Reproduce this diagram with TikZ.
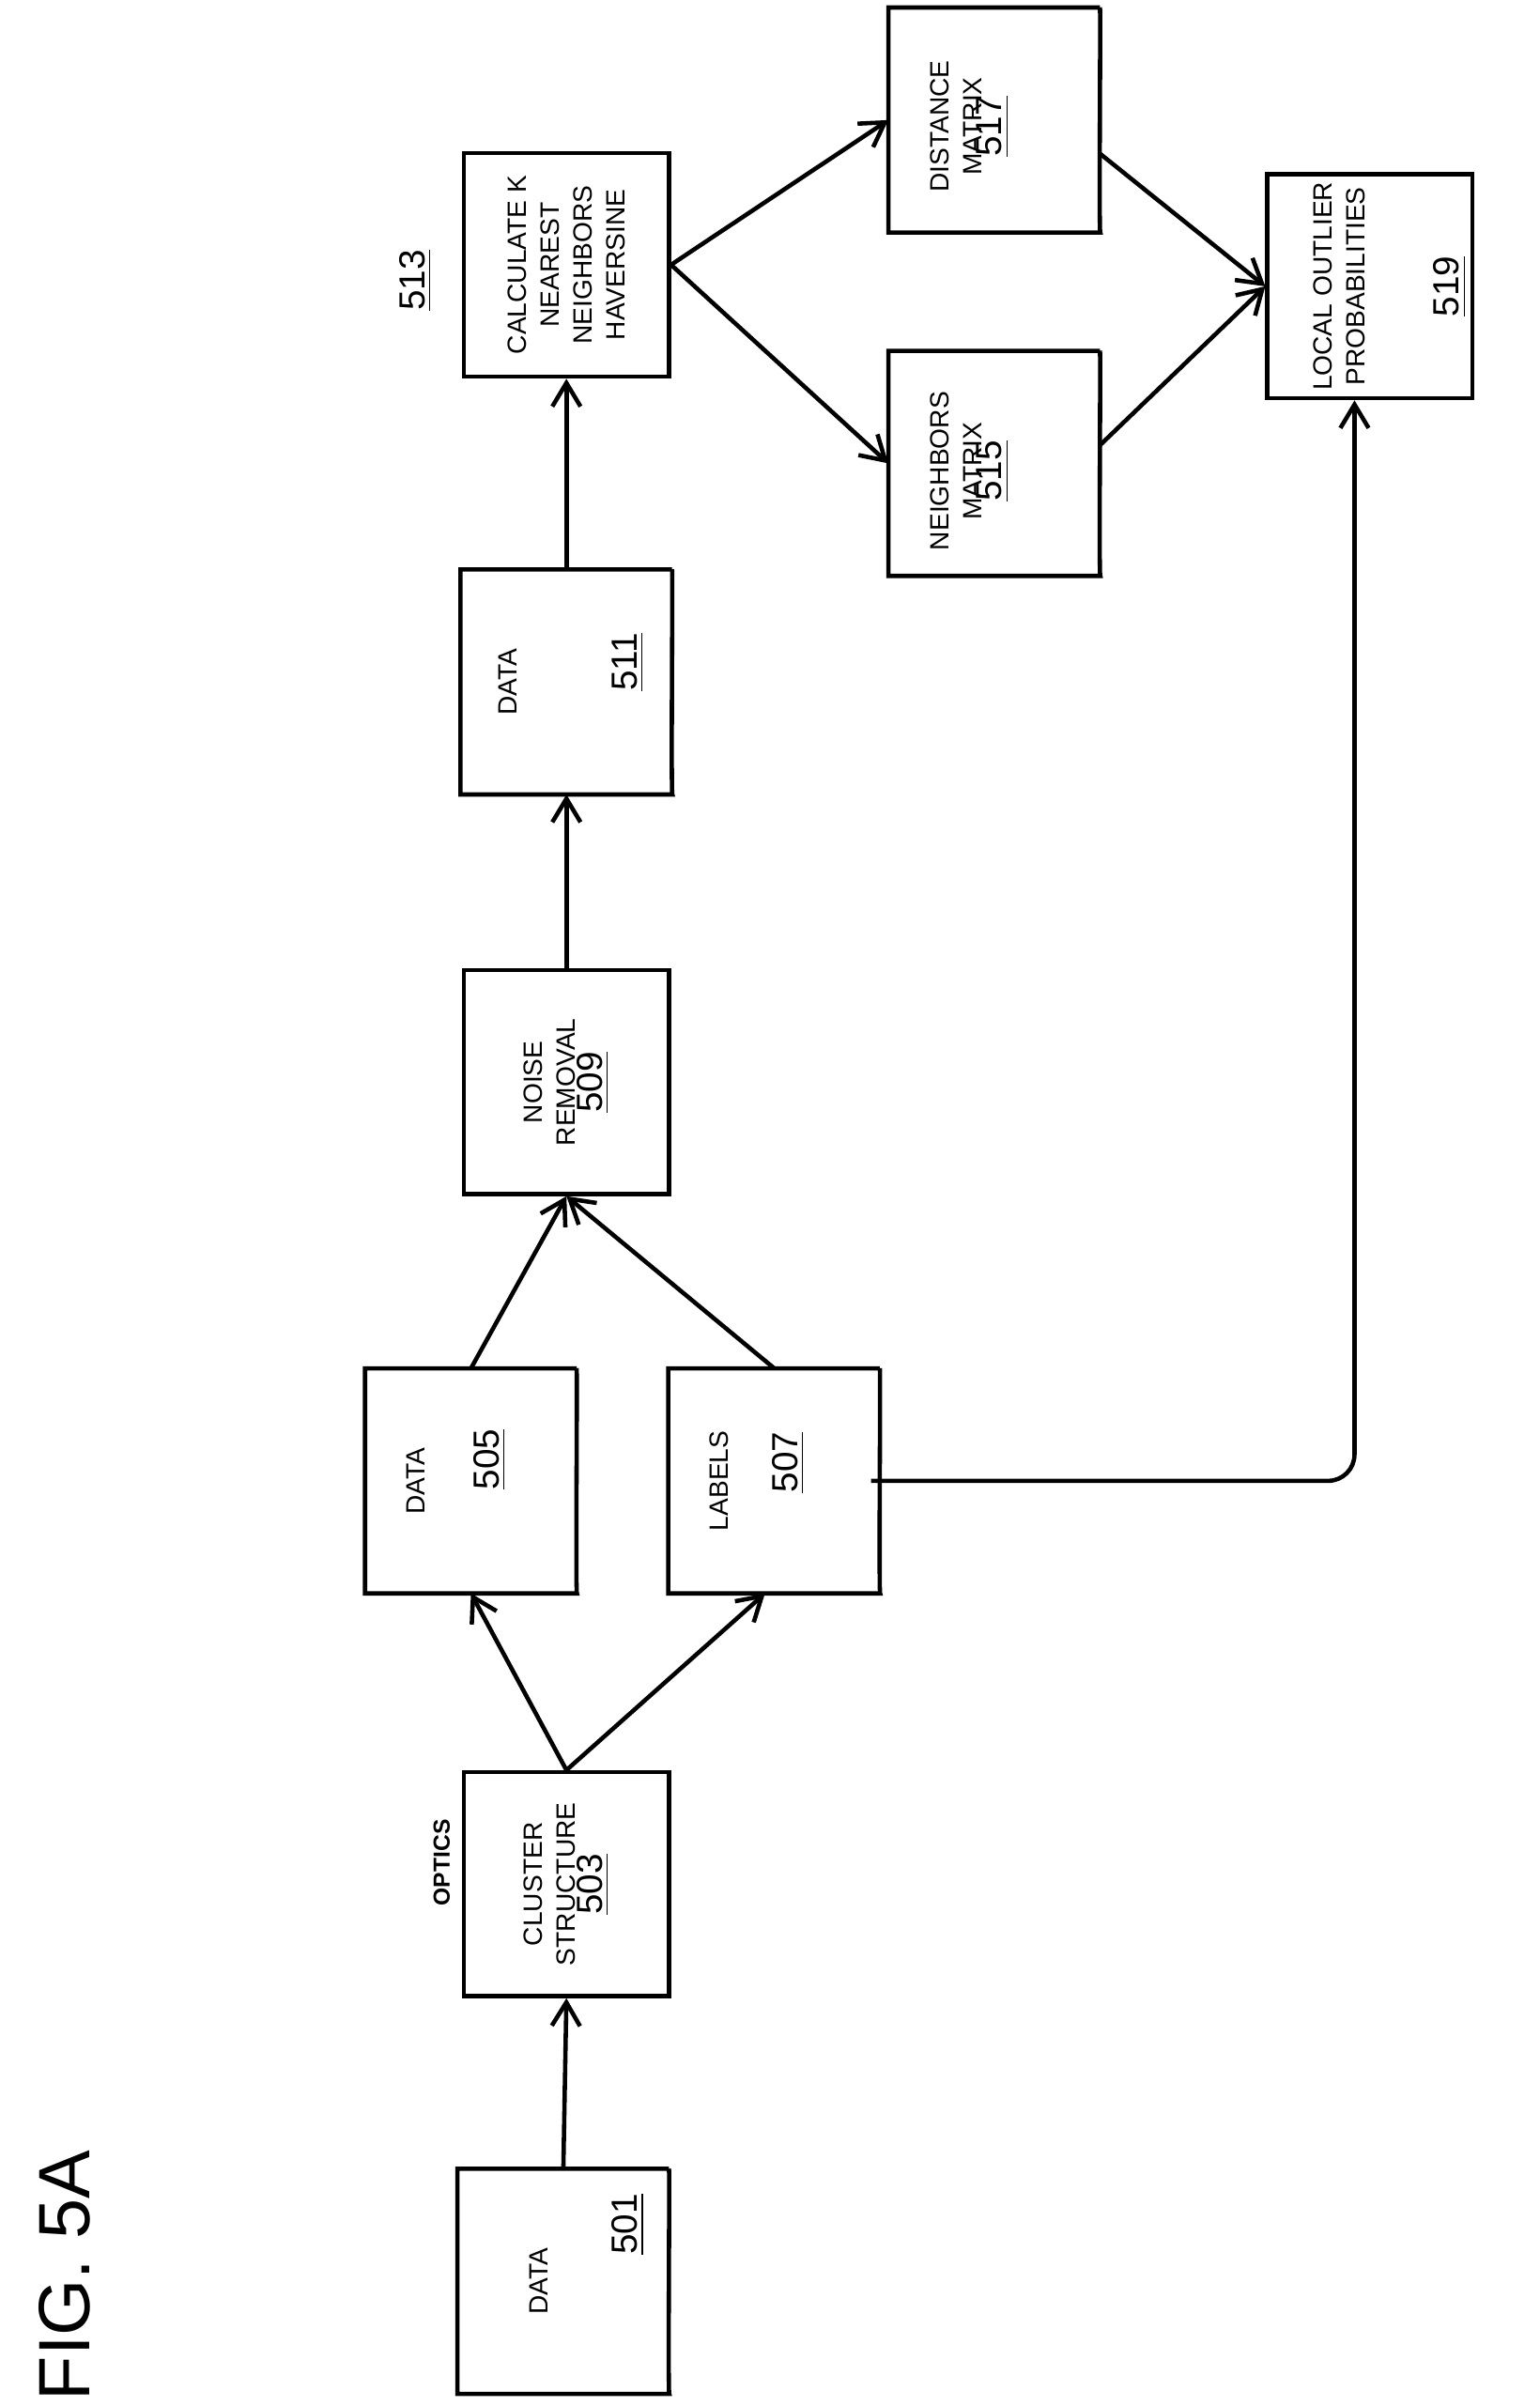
\documentclass[tikz,border=0pt]{standalone}
\usepackage{fontspec}
\setmainfont{Liberation Sans}
\usetikzlibrary{calc,arrows.meta}
\begin{document}
\begin{tikzpicture}[x=0.01638cm,y=-0.01638cm,
  box/.style={draw,line width=1.3pt,minimum width=2.18cm,minimum height=2.38cm},
  dbox/.style={minimum width=2.24cm,minimum height=2.38cm},
  txt/.style={rotate=90,align=center,font=\fontsize{8}{10}\selectfont},
  num/.style={rotate=90,font=\fontsize{11}{12}\selectfont},
  arr/.style={line width=1.3pt,-{Straight Barb[length=2.5mm,width=3mm]}}]
\useasboundingbox (0,0) rectangle (1000,1563);
\newcommand\docshape[1]{\draw[line width=1.3pt] ($(#1.north east)+(-0.25,0)$) -- (#1.north west) -- (#1.south west) -- (#1.south east)
  .. controls ($(#1.south east)+(-1.0,1.0)$) and ($(#1.north east)+(0.35,-0.9)$) .. ($(#1.north east)+(-0.25,0)$);}
% nodes
\node[dbox] (d501) at (366,1482) {};
\node[box] (b503) at (368,1224) {};
\node[dbox] (d505) at (306,962) {};
\node[dbox] (d507) at (503,962) {};
\node[box] (b509) at (368,703) {};
\node[dbox] (d511) at (368,443) {};
\node[box] (b513) at (368,172) {};
\node[dbox] (d515) at (646,301) {};
\node[dbox] (d517) at (646,78) {};
\node[box] (b519) at (890,186) {};
\docshape{d501}\docshape{d505}\docshape{d507}\docshape{d511}\docshape{d515}\docshape{d517}
% texts
\node[txt] at (350,1482) {DATA};
\node[num] at (408,1445) {\underline{501}};
\node[txt] at (368,1224) {CLUSTER\\STRUCTURE\\[-2pt]\fontsize{11}{12}\selectfont\underline{503}};
\node[rotate=90,font=\bfseries\fontsize{7}{8}\selectfont] at (287,1210) {OPTICS};
\node[txt] at (270,962) {DATA};
\node[num] at (318,948) {\underline{505}};
\node[txt] at (467,962) {LABELS};
\node[num] at (512,950) {\underline{507}};
\node[txt] at (368,703) {NOISE\\REMOVAL\\[-2pt]\fontsize{11}{12}\selectfont\underline{509}};
\node[txt] at (330,443) {DATA};
\node[num] at (408,430) {\underline{511}};
\node[txt] at (368,172) {CALCULATE K\\NEAREST\\NEIGHBORS\\HAVERSINE};
\node[num] at (270,182) {\underline{513}};
\node[txt] at (630,306) {NEIGHBORS\\MATRIX\\[-4pt]\fontsize{11}{12}\selectfont\underline{515}};
\node[txt] at (630,82) {DISTANCE\\MATRIX\\[-4pt]\fontsize{11}{12}\selectfont\underline{517}};
\node[txt] at (870,186) {LOCAL OUTLIER\\PROBABILITIES};
\node[num] at (942,186) {\underline{519}};
\node[rotate=90,font=\fontsize{22}{24}\selectfont] (fig) at (42,1478) {FIG. 5A};
% connectors
\draw[arr] (d501.north) -- (b503.south);
\draw[arr] (b503.north) -- (d505.south);
\draw[arr] (b503.north) -- ($(d507.south)+(-6,0)$);
\draw[arr] (d505.north) -- (b509.south);
\draw[arr] (d507.north) -- (b509.south);
\draw[arr] (b509.north) -- (d511.south);
\draw[arr] (d511.north) -- (b513.south);
\draw[arr] (b513.east) -- (d515.west);
\draw[arr] (b513.east) -- (d517.west);
\draw[arr] ($(d517.east)+(0,22)$) -- ($(b519.west)+(0,0)$);
\draw[arr] ($(d515.east)+(0,-12)$) -- (b519.west);
\draw[arr,rounded corners=8pt] ($(d507.east)+(-6,0)$) -- (880,962) -- (b519.south-|880,0);
\end{tikzpicture}
\end{document}
